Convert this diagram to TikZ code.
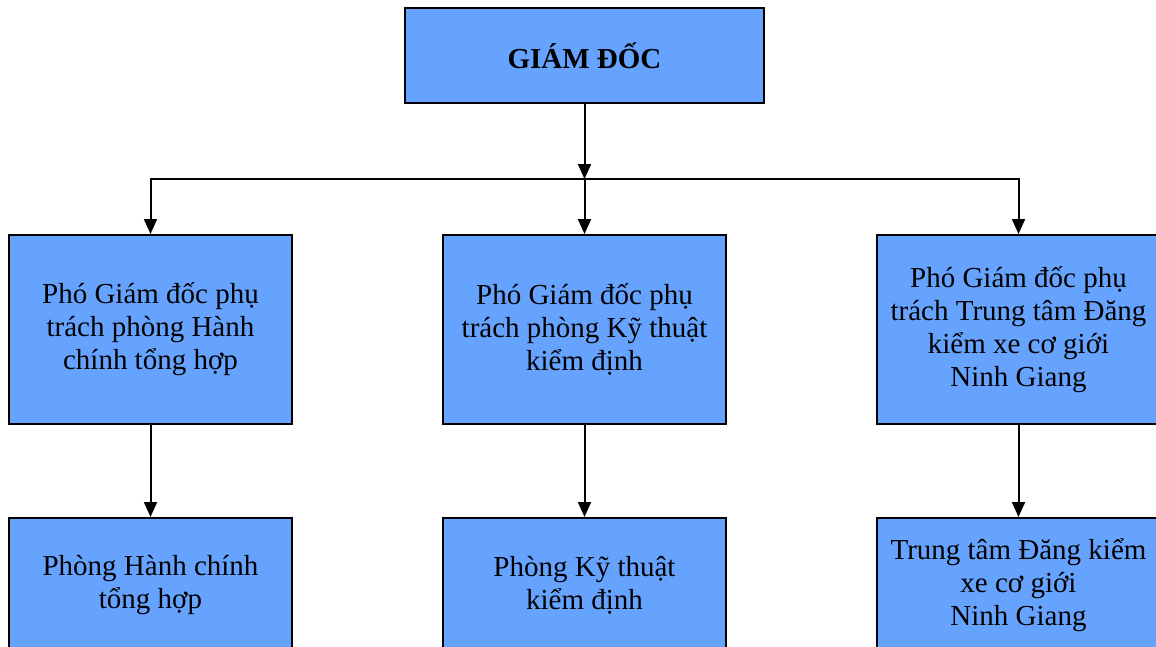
\documentclass[tikz,border=0pt]{standalone}
\usepackage{fontspec}
\setmainfont{Liberation Serif}
\usetikzlibrary{arrows.meta}
\definecolor{boxblue}{RGB}{102,163,255}
\begin{document}
\begin{tikzpicture}[x=1pt,y=-1pt,
  box/.style={draw=black,line width=2pt,fill=boxblue,minimum width=283pt,
    minimum height=189pt,align=center,inner sep=0pt,
    font=\fontsize{29}{33}\selectfont},
  lowbox/.style={box,minimum height=134pt},
  arr/.style={line width=2pt,-{Triangle[width=13pt,length=15pt]}},
  conn/.style={line width=2pt}]
\useasboundingbox (0,0) rectangle (1156,646);
\clip (0,0) rectangle (1156,646);
\node[box,minimum width=359pt,minimum height=95pt,font=\fontsize{29}{33}\selectfont\bfseries] (gd) at (584.5,55.5) {GIÁM ĐỐC};
\node[box] (p1) at (150.5,329.5) {Phó Giám đốc phụ\\trách phòng Hành\\chính tổng hợp};
\node[box] (p2) at (584.5,329.5) {Phó Giám đốc phụ\\trách phòng Kỹ thuật\\kiểm định};
\node[box] (p3) at (1018.5,329.5) {Phó Giám đốc phụ\\trách Trung tâm Đăng\\kiểm xe cơ giới\\Ninh Giang};
\node[lowbox] (d1) at (150.5,585) {Phòng Hành chính\\tổng hợp};
\node[lowbox] (d2) at (584.5,585) {Phòng Kỹ thuật\\kiểm định};
\node[lowbox] (d3) at (1018.5,585) {Trung tâm Đăng kiểm\\xe cơ giới\\Ninh Giang};
\coordinate (bus) at (584.5,179);
\draw[arr] (gd.south) -- (bus);
\draw[conn] (p1.north |- bus) -- (p3.north |- bus);
\draw[arr] (bus) -| (p1.north);
\draw[arr] (bus) -- (p2.north);
\draw[arr] (bus) -| (p3.north);
\draw[arr] (p1.south) -- (d1.north);
\draw[arr] (p2.south) -- (d2.north);
\draw[arr] (p3.south) -- (d3.north);
\end{tikzpicture}
\end{document}
